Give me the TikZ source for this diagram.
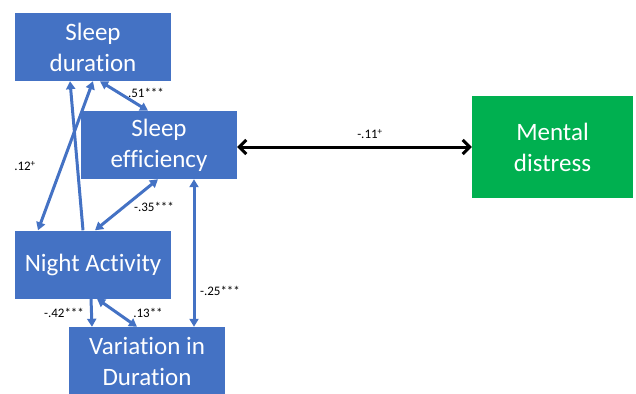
\documentclass[tikz,border=0pt]{standalone}
\usepackage{fontspec}
\setmainfont{Carlito}[Ligatures=NoCommon]
\usetikzlibrary{arrows.meta}

\definecolor{boxblue}{HTML}{4472C4}
\definecolor{boxgreen}{HTML}{00B050}

\tikzstyle{box} = [rectangle,fill=boxblue,text=white,align=center,inner sep=0pt,
	minimum width=156pt,minimum height=68pt,font=\fontsize{25}{31}\selectfont]
\tikzstyle{outcome} = [box,fill=boxgreen,minimum width=161pt,minimum height=102pt]
\tikzstyle{path} = [draw=boxblue,line width=3pt,-{Triangle[length=8pt,width=9pt]}]
\tikzstyle{both} = [path,{Triangle[length=8pt,width=9pt]}-{Triangle[length=8pt,width=9pt]}]
\tikzstyle{coef} = [font=\fontsize{13}{15}\selectfont,inner sep=0pt]

\begin{document}
\begin{tikzpicture}[x=1pt,y=-1pt]
	\useasboundingbox (0,0) rectangle (636,393);

	\node[box] (dur) at (93,47) {Sleep\\duration};
	\node[box] (eff) at (159,145) {Sleep\\efficiency};
	\node[box] (night) at (93,264.5) {Night Activity};
	\node[box] (var) at (147,361) {Variation in\\Duration};
	\node[outcome] (mental) at (552.5,147) {Mental\\distress};

	\draw[both] ([xshift=7]dur.south) -- ([xshift=-11]eff.north);
	\draw[path] ([xshift=-10]night.north) -- ([xshift=-23]dur.south);
	\draw[both] ([xshift=-55]night.north) -- (dur.south);
	\draw[both] ([xshift=2]night.north) -- ([xshift=-1]eff.south);
	\draw[both] ([xshift=35]eff.south) -- ([xshift=47]var.north);
	\draw[path] ([xshift=-2]night.south) -- ([xshift=-55]var.north);
	\draw[both] ([xshift=4]night.south) -- ([xshift=-10]var.north);
	\draw[line width=3pt,{Straight Barb[length=7pt,width=14pt]}-{Straight Barb[length=7pt,width=14pt]}]
		([yshift=-2]eff.east) -- (mental.west);

	\node[coef] (c1) at (146,93) {.51***};
	\node[coef] (c2) at (25,166) {.12\textsuperscript{+}};
	\node[coef] (c3) at (154,207) {-.35***};
	\node[coef] (c4) at (220,291) {-.25***};
	\node[coef] (c5) at (64,313) {-.42***};
	\node[coef] (c6) at (148,313) {.13**};
	\node[coef] (c7) at (370,134) {-.11\textsuperscript{+}};
\end{tikzpicture}
\end{document}
